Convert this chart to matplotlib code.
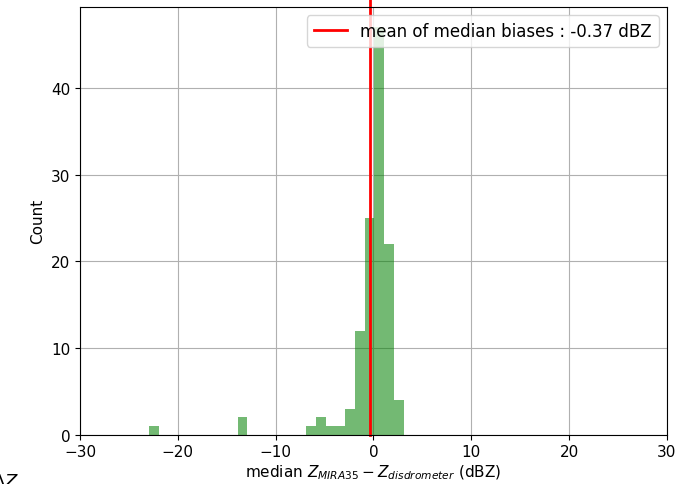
import numpy as np
import matplotlib
matplotlib.use("Agg")
import matplotlib.pyplot as plt

plt.rcParams['font.size'] = 11

# histogram bins (dBZ) and counts
bin_edges = np.round(np.arange(-22.9, 3.2, 1.0), 2)
counts = [1, 0, 0, 0, 0, 0, 0, 0, 0, 2, 0, 0, 0, 0, 0, 0,
          1, 2, 1, 1, 3, 12, 25, 47, 22, 4]
mean_bias = -0.37

centers = (bin_edges[:-1] + bin_edges[1:]) / 2

fig = plt.figure(figsize=(6.84, 4.85), dpi=100)
ax = fig.add_axes([0.117, 0.1016, 0.858, 0.882])

ax.hist(centers, bins=bin_edges, weights=counts, color='g', alpha=0.55)
ax.axvline(mean_bias, color='r', lw=2, ymax=1.02, clip_on=False,
           label='mean of median biases : %.2f dBZ' % mean_bias)

ax.set_xlim(-30, 30)
ax.grid(True)
ax.set_axisbelow(True)
ax.set_ylabel('Count')
ax.set_xlabel(r'median $Z_{MIRA35} - Z_{disdrometer}$ (dBZ)', labelpad=2)
ax.legend(loc='upper right', fontsize=12)

fig.text(-0.012, -0.004, r'$\Delta Z$', fontsize=13, ha='left', va='baseline')

fig.savefig('out.png', dpi=100)
